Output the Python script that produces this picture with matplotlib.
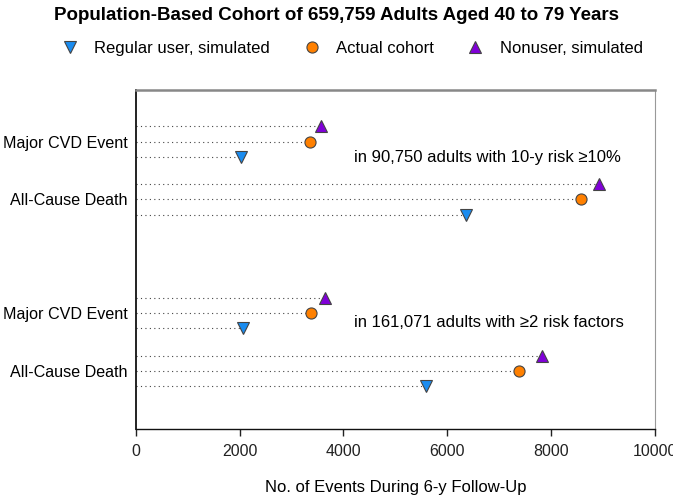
import matplotlib
matplotlib.use("Agg")
import matplotlib.pyplot as plt
from matplotlib.lines import Line2D

plt.rcParams['font.family'] = ['Liberation Sans', 'DejaVu Sans']

categories = ["Major CVD Event", "All-Cause Death", "Major CVD Event", "All-Cause Death"]
regular_user = [2030, 6360, 2060, 5585]
actual_cohort = [3350, 8570, 3380, 7390]
nonuser = [3570, 8920, 3635, 7820]
group_notes = ["in 90,750 adults with 10-y risk \u226510%", "in 161,071 adults with \u22652 risk factors"]
xticks = [0, 2000, 4000, 6000, 8000, 10000]

title = "Population-Based Cohort of 659,759 Adults Aged 40 to 79 Years"
xlabel = "No. of Events During 6-y Follow-Up"

c_reg = "#1a8cf0"
c_act = "#ff8000"
c_non = "#8000d8"
edge = "#444444"

fig = plt.figure(figsize=(6.73, 4.97), dpi=100)
ax = fig.add_axes([0.202, 0.137, 0.771, 0.682])

ypos = [0, 1, 2.96, 3.96]
off = 0.26
series = [(nonuser, -off, '^', c_non), (actual_cohort, 0, 'o', c_act), (regular_user, off, 'v', c_reg)]
for vals, o, m, c in series:
    for y, v in zip(ypos, vals):
        ax.plot([0, v], [y + o, y + o], linestyle=(0, (1, 3)), color='#444444', lw=0.8, zorder=1)
    ax.plot(vals, [y + o for y in ypos], linestyle='none', marker=m, markersize=8,
            markerfacecolor=c, markeredgecolor=edge, markeredgewidth=0.8, zorder=3)

ax.text(4210, ypos[0] + 0.27, group_notes[0], fontsize=12, va='center', ha='left')
ax.text(4210, ypos[2] + 0.16, group_notes[1], fontsize=12, va='center', ha='left')

ax.set_xlim(0, 10000)
ax.set_ylim(4.96, -0.89)
ax.set_xticks(xticks)
ax.set_xticklabels([str(t) for t in xticks], fontsize=11.5)
ax.set_yticks(ypos)
ax.set_yticklabels(categories, fontsize=11.6)
ax.tick_params(axis='y', length=0, pad=6)
ax.tick_params(axis='x', length=5, width=1, direction='out', pad=6, colors='#222222')
ax.set_xlabel(xlabel, fontsize=12, labelpad=15)

ax.spines['left'].set_color('#111111')
ax.spines['left'].set_linewidth(1.3)
ax.spines['bottom'].set_color('#111111')
ax.spines['bottom'].set_linewidth(1.0)
ax.spines['top'].set_color('#888888')
ax.spines['top'].set_linewidth(1.8)
ax.spines['right'].set_color('#999999')
ax.spines['right'].set_linewidth(0.8)

fig.text(0.5, 0.968, title, fontsize=13.5, fontweight='bold', ha='center', va='center')

handles = [
    Line2D([], [], linestyle='none', marker='v', markersize=8, markerfacecolor=c_reg, markeredgecolor=edge, markeredgewidth=0.8),
    Line2D([], [], linestyle='none', marker='o', markersize=8, markerfacecolor=c_act, markeredgecolor=edge, markeredgewidth=0.8),
    Line2D([], [], linestyle='none', marker='^', markersize=8, markerfacecolor=c_non, markeredgecolor=edge, markeredgewidth=0.8),
]
labels = ["Regular user, simulated", "Actual cohort", "Nonuser, simulated"]
fig.legend(handles, labels, loc='center', bbox_to_anchor=(0.522, 0.903), ncol=3, frameon=False,
           fontsize=12, handlelength=1.2, handletextpad=0.85, columnspacing=1.9)

fig.savefig("out.png", dpi=100)
